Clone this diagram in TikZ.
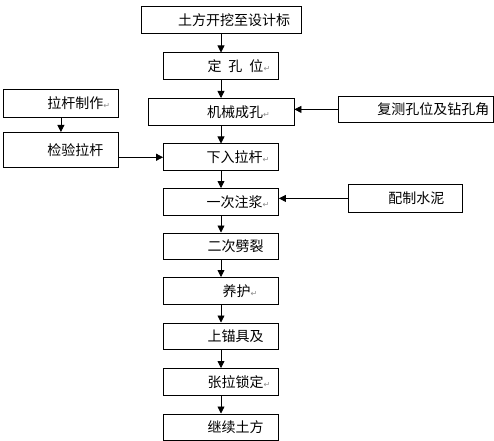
\documentclass[tikz,border=0pt]{standalone}
\usepackage{fontspec}
\setmainfont{Noto Sans CJK SC}
\newfontfamily\symfont{DejaVu Sans}
\usetikzlibrary{positioning, arrows.meta}

\newcommand{\rmark}{{\symfont\fontsize{8bp}{8bp}\selectfont\textcolor{black!45}{↵}}}
\newcommand{\pad}[1]{\hspace*{#1bp}}

\tikzset{
  stepbox/.style={draw, line width=0.8bp, minimum height=26.7bp, inner xsep=0pt,
    inner ysep=0pt, align=left, font=\fontsize{14bp}{16bp}\selectfont},
  flow/.style={-{Triangle[length=7bp,width=7bp]}, line width=0.8bp},
}

\begin{document}
\begin{tikzpicture}[x=1bp, y=-1bp]
\useasboundingbox (0,0) rectangle (494,441);

% main column
\node[stepbox, text width=160bp, anchor=north] (dig) at (221,6) {\pad{37}土方开挖至设计标};
\node[stepbox, text width=115bp, below=19bp of dig] (mark) {\pad{44}定\kern7bp孔\kern7bp位\rmark};
\node[stepbox, text width=146bp, below=18bp of mark] (drill) {\pad{59}机械成孔\rmark};
\node[stepbox, text width=115bp, below=18bp of drill] (insert) {\pad{43}下入拉杆\rmark};
\node[stepbox, text width=115bp, below=17bp of insert] (grout1) {\pad{43}一次注浆\rmark};
\node[stepbox, text width=115bp, below=17bp of grout1] (grout2) {\pad{44}二次劈裂};
\node[stepbox, text width=115bp, below=17bp of grout2] (cure) {\pad{59}养护\rmark};
\node[stepbox, text width=115bp, below=18bp of cure] (anchor) {\pad{44}上锚具及};
\node[stepbox, text width=115bp, below=18bp of anchor] (lock) {\pad{44}张拉锁定\rmark};
\node[stepbox, text width=115bp, below=18bp of lock] (resume) {\pad{44}继续土方};

% side boxes
\node[stepbox, text width=115bp, minimum height=28bp, anchor=north west] (make) at (3,89) {\pad{44}拉杆制作\rmark};
\node[stepbox, text width=115bp, minimum height=35bp, anchor=north west] (check) at (3,132) {\pad{44}检验拉杆};
\node[stepbox, text width=155bp, minimum height=26bp, anchor=north west] (recheck) at (338,96) {\pad{39}复测孔位及钻孔角};
\node[stepbox, text width=114bp, minimum height=28bp, anchor=north west] (cement) at (348,184) {\pad{40}配制水泥};

\foreach \a/\b in {dig/mark, mark/drill, drill/insert, insert/grout1, grout1/grout2,
                   grout2/cure, cure/anchor, anchor/lock, lock/resume}
  \draw[flow] (\a.south) -- (\b.north);

\draw[flow] (make) -- (check);
\draw[flow] (check.east |- insert.west) -- (insert.west);
\draw[flow] (recheck.west) -- (recheck.west -| drill.east);
\draw[flow] (cement.west) -- (cement.west -| grout1.east);
\end{tikzpicture}
\end{document}
